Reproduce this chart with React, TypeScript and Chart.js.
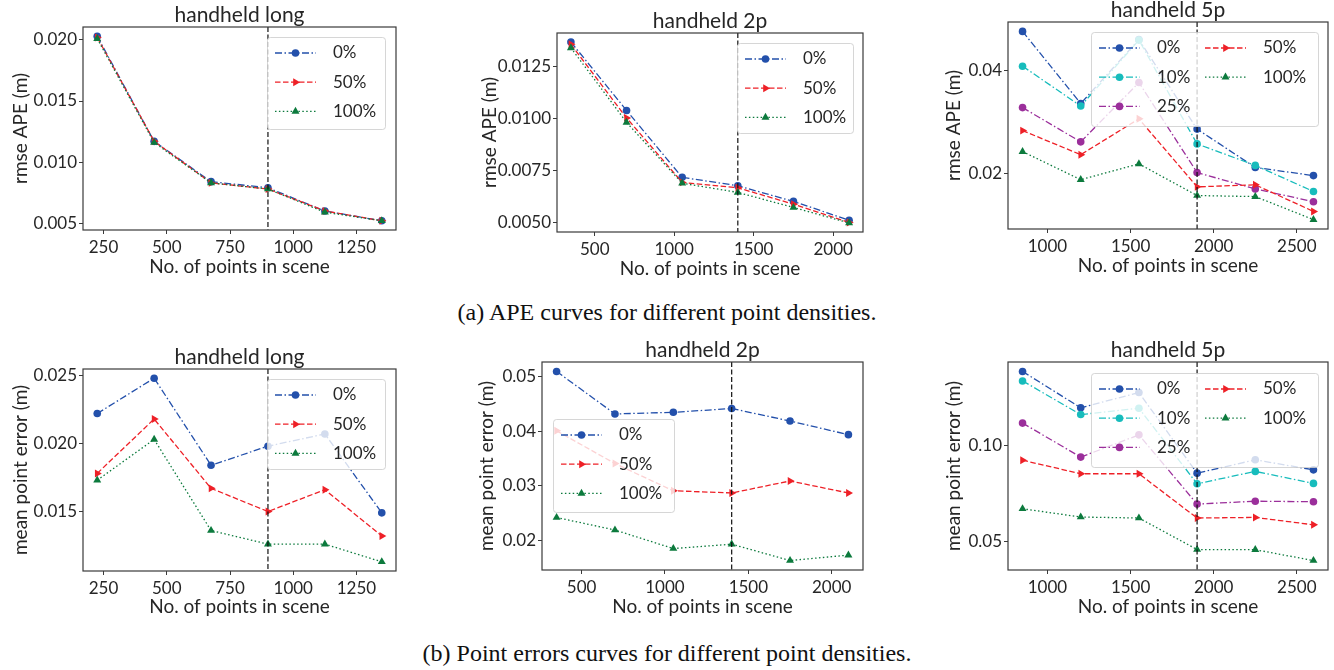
import React, { useEffect, useRef } from "react";
import { Chart, registerables } from "chart.js";

Chart.register(...registerables);

// ---------------- data ----------------
const pointsLong = [225, 450, 675, 900, 1125, 1350];
const points2p = [350, 700, 1050, 1400, 1750, 2100];
const points5p = [850, 1200, 1550, 1900, 2250, 2600];

const splitLong = 900;
const split2p = 1400;
const split5p = 1900;

const labels3 = ["0%", "50%", "100%"];
const labels5 = ["0%", "10%", "25%", "50%", "100%"];

// (a) rmse APE (m)
const apeLong0 = [0.0203, 0.0117, 0.0084, 0.0079, 0.006, 0.0052];
const apeLong50 = [0.0202, 0.0117, 0.0083, 0.0078, 0.006, 0.0052];
const apeLong100 = [0.0201, 0.0116, 0.0083, 0.0078, 0.0059, 0.0052];

const ape2p0 = [0.01365, 0.01038, 0.00718, 0.00678, 0.00603, 0.00513];
const ape2p50 = [0.01354, 0.01002, 0.00694, 0.00668, 0.0059, 0.00502];
const ape2p100 = [0.01337, 0.00981, 0.0069, 0.00646, 0.00574, 0.005];

const ape5p0 = [0.0477, 0.0336, 0.0461, 0.0286, 0.0211, 0.0195];
const ape5p10 = [0.0409, 0.0331, 0.046, 0.0257, 0.0215, 0.0164];
const ape5p25 = [0.0328, 0.0261, 0.0377, 0.0201, 0.0169, 0.0144];
const ape5p50 = [0.0283, 0.0236, 0.0306, 0.0173, 0.0177, 0.0125];
const ape5p100 = [0.0242, 0.0187, 0.0218, 0.0156, 0.0154, 0.0109];

// (b) mean point error (m)
const peLong0 = [0.0222, 0.0248, 0.0184, 0.0198, 0.0207, 0.0149];
const peLong50 = [0.0178, 0.0218, 0.0167, 0.015, 0.0166, 0.0132];
const peLong100 = [0.0173, 0.0203, 0.0136, 0.0126, 0.0126, 0.0113];

const pe2p0 = [0.051, 0.0432, 0.0435, 0.0442, 0.0419, 0.0394];
const pe2p50 = [0.0401, 0.0341, 0.0291, 0.0287, 0.0309, 0.0287];
const pe2p100 = [0.0242, 0.0219, 0.0185, 0.0193, 0.0163, 0.0173];

const pe5p0 = [0.1381, 0.1193, 0.1272, 0.0855, 0.0924, 0.0872];
const pe5p10 = [0.1332, 0.1158, 0.1191, 0.08, 0.0864, 0.0802];
const pe5p25 = [0.1114, 0.0938, 0.1053, 0.0695, 0.071, 0.0707];
const pe5p50 = [0.0922, 0.0852, 0.0852, 0.0623, 0.0626, 0.0588];
const pe5p100 = [0.0671, 0.0628, 0.0623, 0.046, 0.0459, 0.0403];

// tick labels
const xTicksLong = ["250", "500", "750", "1000", "1250"];
const xTicks2p = ["500", "1000", "1500", "2000"];
const xTicks5p = ["1000", "1500", "2000", "2500"];
const yTicksApeLong = ["0.005", "0.010", "0.015", "0.020"];
const yTicksApe2p = ["0.0050", "0.0075", "0.0100", "0.0125"];
const yTicksApe5p = ["0.02", "0.04"];
const yTicksPeLong = ["0.015", "0.020", "0.025"];
const yTicksPe2p = ["0.02", "0.03", "0.04", "0.05"];
const yTicksPe5p = ["0.05", "0.10"];

// ---------------- styles ----------------
const FONT = "Lato, 'Open Sans', sans-serif";
const TXT = "#262626";
const FRAME = "#3a3a3a";

type Marker = "circle" | "triangle" | "tri-right";
const STYLES: Record<string, { color: string; dash: number[]; marker: Marker }> = {
  "0%": { color: "#2350ab", dash: [7, 2.5, 1.5, 2.5], marker: "circle" },
  "10%": { color: "#17bcbc", dash: [7, 2.5, 1.5, 2.5], marker: "circle" },
  "25%": { color: "#9b2f9b", dash: [7, 2.5, 1.5, 2.5], marker: "circle" },
  "50%": { color: "#ee2027", dash: [5.5, 2.5], marker: "tri-right" },
  "100%": { color: "#0c7a3d", dash: [1.5, 2.4], marker: "triangle" },
};

type Panel = {
  key: string;
  title: string;
  yLabel: string;
  xs: number[];
  labels: string[];
  values: number[][];
  split: number;
  xTicks: string[];
  yTicks: string[];
  canvas: [number, number, number, number]; // left, top, width, height (page px)
  area: [number, number, number, number]; // left, top, right, bottom (page px)
  yTitlePad: number;
  xTitlePad: number;
  legend: { x: number; y: number; w: number; h: number; cols: number[][] };
};

const panels: Panel[] = [
  {
    key: "a1", title: "handheld long", yLabel: "rmse APE (m)", xs: pointsLong, labels: labels3,
    values: [apeLong0, apeLong50, apeLong100], split: splitLong, xTicks: xTicksLong, yTicks: yTicksApeLong,
    canvas: [0, 0, 430, 290], area: [83, 27, 396, 230], yTitlePad: 9.6, xTitlePad: 12,
    legend: { x: 267, y: 37, w: 118, h: 92, cols: [[0, 1, 2]] },
  },
  {
    key: "a2", title: "handheld 2p", yLabel: "rmse APE (m)", xs: points2p, labels: labels3,
    values: [ape2p0, ape2p50, ape2p100], split: split2p, xTicks: xTicks2p, yTicks: yTicksApe2p,
    canvas: [440, 0, 450, 290], area: [557, 33, 863, 232], yTitlePad: 38.6, xTitlePad: 10,
    legend: { x: 737, y: 43, w: 116, h: 90, cols: [[0, 1, 2]] },
  },
  {
    key: "a3", title: "handheld 5p", yLabel: "rmse APE (m)", xs: points5p, labels: labels5,
    values: [ape5p0, ape5p10, ape5p25, ape5p50, ape5p100], split: split5p, xTicks: xTicks5p, yTicks: yTicksApe5p,
    canvas: [900, 0, 434, 290], area: [1008, 22, 1328, 229], yTitlePad: 42.6, xTitlePad: 12.5,
    legend: { x: 1091, y: 32, w: 227, h: 94, cols: [[0, 1, 2], [3, 4]] },
  },
  {
    key: "b1", title: "handheld long", yLabel: "mean point error (m)", xs: pointsLong, labels: labels3,
    values: [peLong0, peLong50, peLong100], split: splitLong, xTicks: xTicksLong, yTicks: yTicksPeLong,
    canvas: [0, 335, 430, 305], area: [83, 369, 396, 571], yTitlePad: 9.6, xTitlePad: 22,
    legend: { x: 267, y: 379, w: 118, h: 90, cols: [[0, 1, 2]] },
  },
  {
    key: "b2", title: "handheld 2p", yLabel: "mean point error (m)", xs: points2p, labels: labels3,
    values: [pe2p0, pe2p50, pe2p100], split: split2p, xTicks: xTicks2p, yTicks: yTicksPe2p,
    canvas: [440, 335, 450, 305], area: [542, 362, 863, 570], yTitlePad: 35.6, xTitlePad: 22,
    legend: { x: 553, y: 419, w: 121, h: 93, cols: [[0, 1, 2]] },
  },
  {
    key: "b3", title: "handheld 5p", yLabel: "mean point error (m)", xs: points5p, labels: labels5,
    values: [pe5p0, pe5p10, pe5p25, pe5p50, pe5p100], split: split5p, xTicks: xTicks5p, yTicks: yTicksPe5p,
    canvas: [900, 335, 434, 305], area: [1008, 362, 1328, 570], yTitlePad: 42.6, xTitlePad: 22,
    legend: { x: 1091, y: 373, w: 227, h: 94, cols: [[0, 1, 2], [3, 4]] },
  },
];

function paddedRange(values: number[][]): [number, number] {
  const all = values.flat();
  const lo = Math.min(...all);
  const hi = Math.max(...all);
  const m = (hi - lo) * 0.05;
  return [lo - m, hi + m];
}

function drawMarker(ctx: CanvasRenderingContext2D, marker: Marker, x: number, y: number, color: string) {
  ctx.save();
  ctx.fillStyle = color;
  ctx.setLineDash([]);
  ctx.beginPath();
  if (marker === "circle") {
    ctx.arc(x, y, 3.8, 0, Math.PI * 2);
  } else {
    const r = 4.6;
    const rot = marker === "tri-right" ? Math.PI / 2 : 0;
    for (let k = 0; k < 3; k++) {
      const a = rot + (k * 2 * Math.PI) / 3;
      const px = x + Math.sin(a) * r;
      const py = y - Math.cos(a) * r;
      if (k === 0) ctx.moveTo(px, py);
      else ctx.lineTo(px, py);
    }
    ctx.closePath();
  }
  ctx.fill();
  ctx.restore();
}

function decorPlugin(p: Panel) {
  const [cl, ct] = p.canvas;
  return {
    id: "decor_" + p.key,
    afterDatasetsDraw(chart: any) {
      const { ctx, chartArea: a, scales } = chart;
      // vertical dashed split line
      const xp = scales.x.getPixelForValue(p.split);
      ctx.save();
      ctx.strokeStyle = "#111";
      ctx.lineWidth = 1.2;
      ctx.setLineDash([5, 2.5]);
      ctx.beginPath();
      ctx.moveTo(xp, a.top);
      ctx.lineTo(xp, a.bottom);
      ctx.stroke();
      ctx.restore();

      // legend
      const L = p.legend;
      const fx = L.x - cl;
      const fy = L.y - ct;
      ctx.save();
      ctx.fillStyle = "rgba(255,255,255,0.8)";
      ctx.strokeStyle = "rgba(204,204,204,0.8)";
      ctx.lineWidth = 1;
      ctx.beginPath();
      if ((ctx as any).roundRect) (ctx as any).roundRect(fx + 0.5, fy + 0.5, L.w, L.h, 3);
      else ctx.rect(fx + 0.5, fy + 0.5, L.w, L.h);
      ctx.fill();
      ctx.stroke();
      ctx.restore();

      L.cols.forEach((col, ci) => {
        col.forEach((si, ri) => {
          const lab = p.labels[si];
          const st = STYLES[lab];
          const ox = fx + ci * 106;
          const y = fy + 16 + ri * 29.2;
          ctx.save();
          ctx.strokeStyle = st.color;
          ctx.lineWidth = 1.3;
          ctx.setLineDash(st.dash);
          ctx.beginPath();
          ctx.moveTo(ox + 8, y);
          ctx.lineTo(ox + 49, y);
          ctx.stroke();
          ctx.restore();
          drawMarker(ctx, st.marker, ox + 28.5, y, st.color);
          ctx.save();
          ctx.fillStyle = TXT;
          ctx.font = `17px ${FONT}`;
          ctx.textAlign = "left";
          ctx.textBaseline = "middle";
          ctx.fillText(lab, ox + 66, y);
          ctx.restore();
        });
      });
    },
    afterDraw(chart: any) {
      const { ctx, chartArea: a } = chart;
      ctx.save();
      ctx.strokeStyle = FRAME;
      ctx.lineWidth = 1.2;
      ctx.setLineDash([]);
      ctx.strokeRect(a.left, a.top, a.right - a.left, a.bottom - a.top);
      ctx.fillStyle = TXT;
      ctx.font = `21px ${FONT}`;
      ctx.textAlign = "center";
      ctx.textBaseline = "alphabetic";
      ctx.fillText(p.title, (a.left + a.right) / 2, a.top - 5);
      ctx.restore();
    },
  };
}

function PanelChart({ p }: { p: Panel }) {
  const ref = useRef<HTMLCanvasElement>(null);
  const [cl, ct, cw, ch] = p.canvas;
  useEffect(() => {
    const [al, at, ar, ab] = p.area;
    const [ymin, ymax] = paddedRange(p.values);
    const [xmin, xmax] = paddedRange([p.xs]);
    const datasets = p.labels.map((lab, i) => {
      const st = STYLES[lab];
      return {
        label: lab,
        data: p.xs.map((x, j) => ({ x, y: p.values[i][j] })),
        borderColor: st.color,
        backgroundColor: st.color,
        borderWidth: 1.3,
        borderDash: st.dash,
        pointStyle: st.marker === "circle" ? "circle" : "triangle",
        pointRotation: st.marker === "tri-right" ? 90 : 0,
        pointRadius: st.marker === "circle" ? 3.8 : 4.6,
        pointBorderWidth: 0,
        pointBackgroundColor: st.color,
        pointBorderColor: st.color,
        fill: false,
        tension: 0,
        order: p.labels.length - i,
      };
    });
    const chart = new Chart(ref.current as HTMLCanvasElement, {
      type: "line",
      data: { datasets: datasets as any },
      options: {
        animation: false,
        responsive: false,
        maintainAspectRatio: false,
        devicePixelRatio: 1,
        layout: { padding: { left: 0, top: at - ct, right: cl + cw - ar, bottom: 0 } },
        plugins: { legend: { display: false }, title: { display: false }, tooltip: { enabled: false } },
        scales: {
          x: {
            type: "linear",
            min: xmin,
            max: xmax,
            afterBuildTicks: (ax: any) => {
              ax.ticks = p.xTicks.map((t) => ({ value: Number(t) }));
            },
            afterFit: (ax: any) => {
              ax.height = ct + ch - ab;
            },
            ticks: {
              autoSkip: false,
              maxRotation: 0,
              padding: 3,
              color: TXT,
              font: { size: 17, family: FONT },
              callback: (_v: any, i: number) => p.xTicks[i],
            },
            grid: { drawOnChartArea: false, drawTicks: true, tickLength: 4, color: FRAME, lineWidth: 1 },
            border: { display: false },
            title: {
              display: true,
              text: "No. of points in scene",
              color: TXT,
              font: { size: 19, family: FONT },
              padding: { top: 0, bottom: p.xTitlePad },
            },
          },
          y: {
            type: "linear",
            min: ymin,
            max: ymax,
            afterBuildTicks: (ax: any) => {
              ax.ticks = p.yTicks.map((t) => ({ value: Number(t) }));
            },
            afterFit: (ax: any) => {
              ax.width = al - cl;
            },
            ticks: {
              autoSkip: false,
              padding: 2,
              color: TXT,
              font: { size: 17, family: FONT },
              callback: (_v: any, i: number) => p.yTicks[i],
            },
            grid: { drawOnChartArea: false, drawTicks: true, tickLength: 4, color: FRAME, lineWidth: 1 },
            border: { display: false },
            title: {
              display: true,
              text: p.yLabel,
              color: TXT,
              font: { size: 19, family: FONT },
              padding: { top: p.yTitlePad, bottom: 0 },
            },
          },
        },
      } as any,
      plugins: [decorPlugin(p) as any],
    });
    return () => chart.destroy();
  }, [p]);
  return (
    <canvas
      ref={ref}
      width={cw}
      height={ch}
      style={{ position: "absolute", left: cl, top: ct, width: cw, height: ch }}
    />
  );
}

const captionStyle: React.CSSProperties = {
  position: "absolute",
  left: 0,
  width: 1334,
  textAlign: "center",
  fontFamily: "'Liberation Serif', 'Times New Roman', serif",
  fontSize: 24,
  lineHeight: "24px",
  color: "#111",
  whiteSpace: "nowrap",
};

export default function App() {
  return (
    <div
      style={{
        position: "fixed",
        left: 0,
        top: 0,
        width: 1334,
        height: 670,
        background: "#fff",
        overflow: "hidden",
      }}
    >
      {panels.map((p) => (
        <PanelChart key={p.key} p={p} />
      ))}
      <div style={{ ...captionStyle, top: 300 }}>(a) APE curves for different point densities.</div>
      <div style={{ ...captionStyle, top: 641 }}>(b) Point errors curves for different point densities.</div>
    </div>
  );
}
